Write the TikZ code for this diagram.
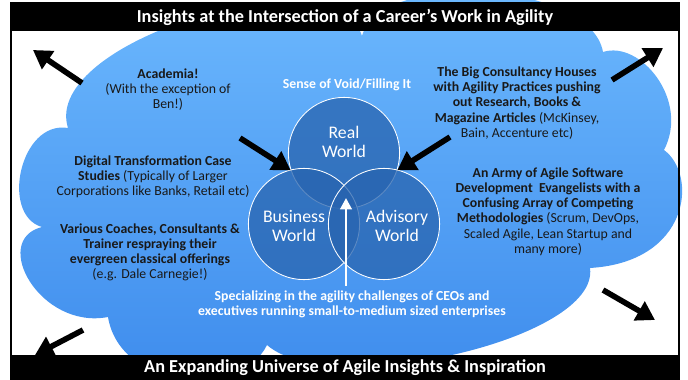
\documentclass[tikz,border=0pt]{standalone}
\usepackage{fontspec}
\setmainfont{Carlito}
\usepackage{tikz}
\usetikzlibrary{arrows.meta,positioning,calc}
\definecolor{cloudtop}{RGB}{112,188,255}
\definecolor{cloudbot}{RGB}{60,138,236}
\definecolor{venn}{RGB}{40,100,175}
\definecolor{ink}{RGB}{25,25,25}

\begin{document}
\begin{tikzpicture}[x=0.025cm, y=-0.025cm, font=\fontsize{9.8}{10.8}\selectfont,
  txt/.style={align=center, text=ink, inner sep=0pt},
  wtxt/.style={align=center, text=white, inner sep=0pt, font=\fontsize{9.8}{10.8}\selectfont\bfseries},
  world/.style={circle, draw=white, line width=0.6pt, fill=venn, fill opacity=0.75, minimum size=2.78cm, inner sep=0pt},
  worldtxt/.style={align=center, text=white, inner sep=0pt, font=\fontsize{12.6}{13.5}\selectfont},
  bar/.style={fill=black, text=white, inner sep=0pt, minimum width=16.725cm, font=\fontsize{13}{15}\selectfont\bfseries},
  bigarrow/.style={line width=4pt, -{Triangle[length=13pt,width=15pt]}}]
  \useasboundingbox (0,0) rectangle (688,380);

  \shade[top color=cloudtop, bottom color=cloudbot]
    (68,128) .. controls (40,40) and (336,-47) .. (362,36)
    .. controls (380,-30) and (590,-20) .. (603,52)
    .. controls (640,40) and (690,100) .. (664,150)
    .. controls (698,175) and (690,262) .. (590,268)
    .. controls (600,340) and (330,400) .. (267,345)
    .. controls (240,400) and (120,390) .. (108,317)
    .. controls (40,330) and (-10,240) .. (42,227)
    .. controls (0,215) and (20,120) .. (68,128) -- cycle;

  \draw[line width=1.4pt] (11,3) rectangle (679,379);
  \node[bar, minimum height=0.7cm] (title) at (345,17) {Insights at the Intersection of a Career’s Work in Agility};
  \node[bar, minimum height=0.625cm] (footer) at (345,367.5) {An Expanding Universe of Agile Insights \& Inspiration};

  \node[world] (real) at (344,153) {};
  \node[world] (business) at (304,224) {};
  \node[world] (advisory) at (384,224) {};
  \node[worldtxt] (realtxt) at ([yshift=2.8mm]real.center) {Real\\World};
  \node[worldtxt] (businesstxt) at (294,226) {Business\\World};
  \node[worldtxt] (advisorytxt) at (397,226) {Advisory\\World};

  \node[wtxt] (sense) at (347,85) {Sense of Void/Filling It};
  \node[wtxt] (spec) at (352,304) {Specializing in the agility challenges of CEOs and\\executives running small-to-medium sized enterprises};

  \node[txt] (academia) at (168,89.5) {\textbf{Academia!}\\(With the exception of\\Ben!)};
  \node[txt] (consult) at (517,103) {\textbf{The Big Consultancy Houses}\\\textbf{with Agility Practices pushing}\\\textbf{out Research, Books \&}\\\textbf{Magazine Articles} (McKinsey,\\Bain, Accenture etc)};
  \node[txt] (digital) at (153,177) {\textbf{Digital Transformation Case}\\\textbf{Studies} (Typically of Larger\\Corporations like Banks, Retail etc)};
  \node[txt] (coaches) at (150,252.5) {\textbf{Various Coaches, Consultants \&}\\\textbf{Trainer respraying their}\\\textbf{evergreen classical offerings}\\(e.g. Dale Carnegie!)};
  \node[txt] (army) at (548,211.5) {\textbf{An Army of Agile Software}\\\textbf{Development~ Evangelists with a}\\\textbf{Confusing Array of Competing}\\\textbf{Methodologies} (Scrum, DevOps,\\Scaled Agile, Lean Startup and\\many more)};

  \coordinate (inl) at (240,138);
  \coordinate (inr) at (450,137);
  \coordinate (base) at (346,286);
  \coordinate (core) at (346,198);
  \coordinate (tlfrom) at (82,83);
  \coordinate (tlto) at (33,50);
  \coordinate (trfrom) at (612,80);
  \coordinate (trto) at (663,48);
  \coordinate (blfrom) at (83,330);
  \coordinate (blto) at (35,355);
  \coordinate (brfrom) at (603,290);
  \coordinate (brto) at (655,320);

  \draw[bigarrow] (inl) -- (real.198);
  \draw[bigarrow] (inr) -- (real.-18);
  \draw[white, line width=2pt, -{Triangle[length=8pt,width=8pt]}] (base) -- (core);
  \draw[bigarrow] (tlfrom) -- (tlto);
  \draw[bigarrow] (trfrom) -- (trto);
  \draw[bigarrow] (blfrom) -- (blto);
  \draw[bigarrow] (brfrom) -- (brto);
\end{tikzpicture}
\end{document}
